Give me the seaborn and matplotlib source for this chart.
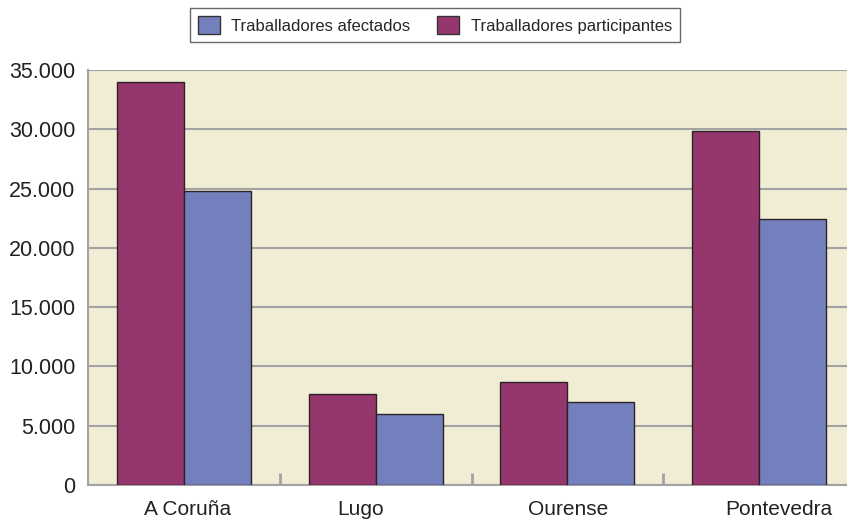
import pandas as pd
import numpy as np
import matplotlib.pyplot as plt
import seaborn as sns
from matplotlib.patches import Patch
from matplotlib.ticker import FuncFormatter, FixedLocator
from matplotlib.transforms import ScaledTranslation

provincias = ['A Coruña', 'Lugo', 'Ourense', 'Pontevedra']
participantes = [34000, 7700, 8700, 29850]
afectados = [24800, 5950, 7000, 22400]
serie_afect = 'Traballadores afectados'
serie_part = 'Traballadores participantes'

df = pd.DataFrame({
    'provincia': provincias * 2,
    'valor': participantes + afectados,
    'serie': [serie_part] * 4 + [serie_afect] * 4,
})

col_part = '#95376D'
col_afect = '#7480BD'
bg = '#F1ECD4'
grid_col = '#A3A3A3'

sns.set_style('white')
plt.rcParams['font.family'] = ['Liberation Sans', 'DejaVu Sans']

fig = plt.figure(figsize=(8.47, 5.24), dpi=100)
# plot area runs a little past the right edge of the figure
ax = fig.add_axes([88 / 847, 1 - 485 / 524, 767 / 847, (485 - 70) / 524])
ax.set_facecolor(bg)

sns.barplot(data=df, x='provincia', y='valor', hue='serie',
            hue_order=[serie_part, serie_afect],
            palette=[col_part, col_afect], saturation=1, width=0.7,
            edgecolor='#2a2228', linewidth=1.0, ax=ax, zorder=3,
            legend=False)

ax.set_ylim(0, 35000)
ax.set_xlim(-0.5, 3.5)
ax.set_yticks(np.arange(0, 35001, 5000))
ax.yaxis.set_major_formatter(FuncFormatter(lambda v, p: f'{int(v):,}'.replace(',', '.')))
ax.grid(axis='y', color=grid_col, linewidth=1.5, zorder=1)
ax.set_axisbelow(True)
ax.set_xlabel('')
ax.set_ylabel('')
ax.tick_params(axis='y', length=0, pad=9, labelsize=15.5, labelcolor='#222222')
ax.tick_params(axis='x', length=0, pad=11, labelsize=15, labelcolor='#222222')

# the original labels are not quite centred under their groups (pixel shifts)
label_shift = [4, -15, 1, 20]
for lbl, dx in zip(ax.get_xticklabels(), label_shift):
    lbl.set_transform(lbl.get_transform() + ScaledTranslation(dx / 100, 0, fig.dpi_scale_trans))

# small ticks between categories
ax.xaxis.set_minor_locator(FixedLocator([0.5, 1.5, 2.5]))
ax.tick_params(axis='x', which='minor', bottom=True, direction='in',
               length=9, width=2, color=grid_col)

for s in ['top', 'right']:
    ax.spines[s].set_visible(False)
for s in ['left', 'bottom']:
    ax.spines[s].set_color(grid_col)
    ax.spines[s].set_linewidth(1.5)

handles = [Patch(facecolor=col_afect, edgecolor='#333333', label=serie_afect),
           Patch(facecolor=col_part, edgecolor='#333333', label=serie_part)]
leg = fig.legend(handles=handles, loc='center', bbox_to_anchor=(435 / 847, 1 - 25 / 524),
                 ncol=2, frameon=True, fancybox=False, fontsize=12,
                 handlelength=1.3, handleheight=1.3, handletextpad=0.7,
                 columnspacing=1.6, borderpad=0.5, borderaxespad=0)
leg.get_frame().set_edgecolor('#444444')
leg.get_frame().set_linewidth(1.0)

fig.savefig('out.png', dpi=100)
